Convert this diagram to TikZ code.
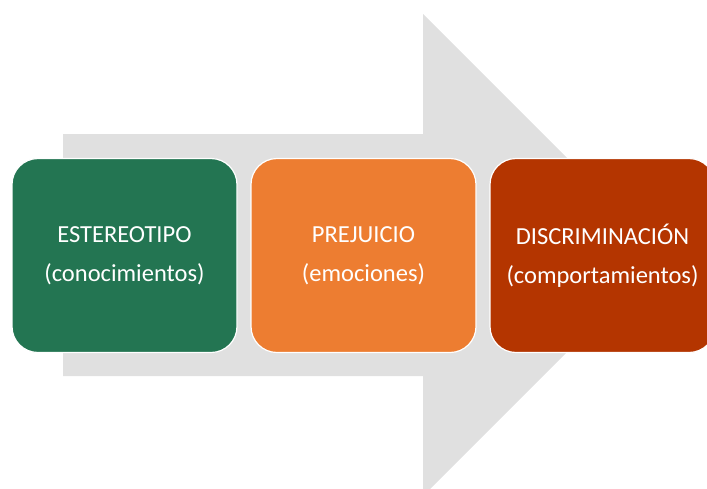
\documentclass[tikz,border=0pt]{standalone}
\usepackage{fontspec}
\setmainfont{Carlito}
\definecolor{arrowgrey}{HTML}{E0E0E0}
\definecolor{boxgreen}{HTML}{237552}
\definecolor{boxorange}{HTML}{ED7D31}
\definecolor{boxred}{HTML}{B43500}
\tikzset{
  stagebox/.style={draw=white, line width=1.2pt, rounded corners=26pt,
    minimum width=225pt, minimum height=194pt, align=center, text=white,
    font=\fontsize{24.5}{39}\selectfont, inner sep=0pt},
}
\begin{document}
\begin{tikzpicture}[x=1pt,y=-1pt]
\useasboundingbox (0,0) rectangle (707,488);
\clip (0,0) rectangle (707,488);
\fill[arrowgrey] (63,134) -- (423,134) -- (423,14) -- (664,255) -- (423,496) -- (423,376) -- (63,376) -- cycle;
\node[stagebox, fill=boxgreen] (estereotipo) at (124.5,255.5) {ESTEREOTIPO\\(conocimientos)};
\node[stagebox, fill=boxorange] (prejuicio) at (363.5,255.5) {PREJUICIO\\(emociones)};
\node[stagebox, fill=boxred] (discriminacion) at (602.5,255.5) {DISCRIMINACIÓN\\(comportamientos)};
\end{tikzpicture}
\end{document}
